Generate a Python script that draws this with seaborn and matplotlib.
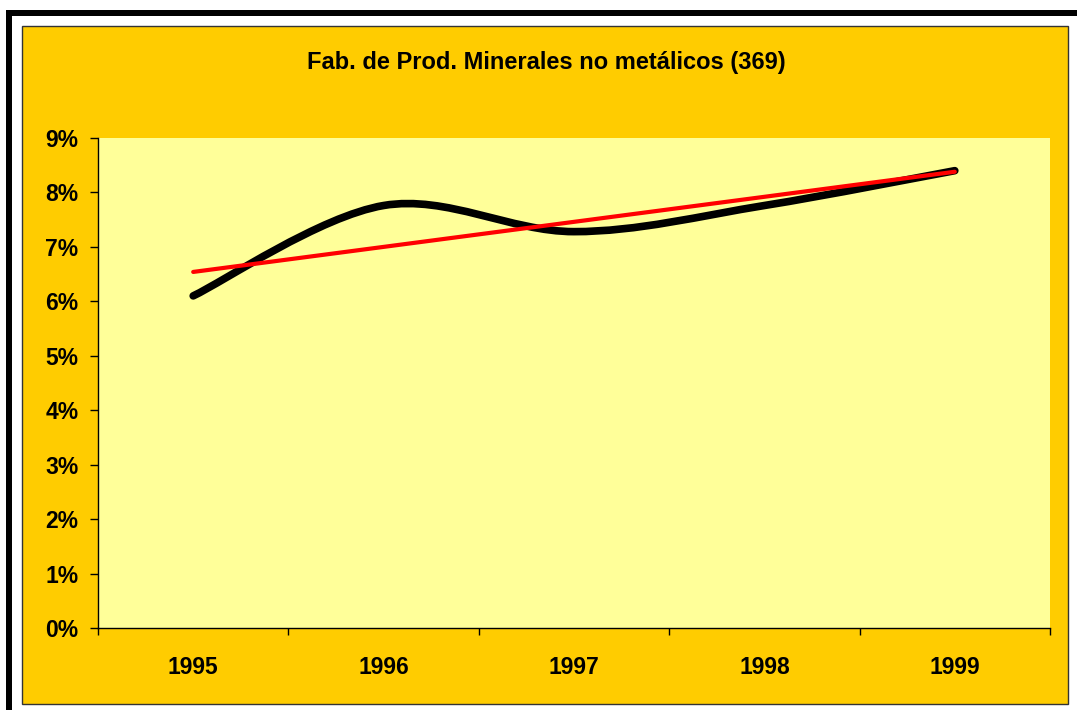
import numpy as np
import matplotlib
matplotlib.use("Agg")
import matplotlib.pyplot as plt
from matplotlib.path import Path
from matplotlib.patches import PathPatch, Rectangle
from matplotlib.ticker import FixedLocator, FuncFormatter
import seaborn as sns

# datos
years = ["1995", "1996", "1997", "1998", "1999"]
valores = [6.10, 7.76, 7.28, 7.76, 8.40]   # %
y_ticks = list(range(0, 10))

sns.set_style("white")
plt.rcParams['font.family'] = ['Liberation Sans', 'DejaVu Sans']
plt.rcParams['font.weight'] = 'bold'
plt.rcParams['text.color'] = 'black'
plt.rcParams['xtick.color'] = 'black'
plt.rcParams['ytick.color'] = 'black'

W, H = 1077, 710
fig = plt.figure(figsize=(W / 100, H / 100), dpi=100)
fig.patch.set_facecolor("white")

# marco exterior negro (izquierda y arriba)
fig.add_artist(Rectangle((6 / W, 0), 6 / W, 700 / H, transform=fig.transFigure,
                         facecolor="black", edgecolor="none", zorder=-2))
fig.add_artist(Rectangle((6 / W, 694 / H), (W - 6) / W, 6 / H, transform=fig.transFigure,
                         facecolor="black", edgecolor="none", zorder=-2))
# area del grafico
fig.add_artist(Rectangle((22 / W, 6 / H), 1046 / W, 678 / H, transform=fig.transFigure,
                         facecolor="#FFCC00", edgecolor="#333333", lw=1, zorder=-1))

ax = fig.add_axes([98 / W, 82 / H, 952 / W, 490 / H])
ax.set_facecolor("#FFFF99")

x = np.arange(len(years))
y = np.array(valores)

# linea de tendencia (regresion lineal)
sns.regplot(x=x, y=y, ax=ax, scatter=False, ci=None, truncate=True,
            line_kws=dict(color="#FF0000", lw=3, solid_capstyle="round", zorder=3))

# linea suavizada tipo Excel (Bezier)
pts = np.column_stack([x, y]).astype(float)
ext = np.vstack([pts[0], pts, pts[-1]])
verts = [tuple(pts[0])]
codes = [Path.MOVETO]
for i in range(len(pts) - 1):
    p0, p1, p2, p3 = ext[i], ext[i + 1], ext[i + 2], ext[i + 3]
    c1 = p1 + (p2 - p0) / 6
    c2 = p2 - (p3 - p1) / 6
    verts += [tuple(c1), tuple(c2), tuple(p2)]
    codes += [Path.CURVE4] * 3
ax.add_patch(PathPatch(Path(verts, codes), facecolor="none", edgecolor="black",
                       lw=5.5, capstyle="round", joinstyle="round", zorder=2))

ax.set_xlim(-0.5, len(years) - 0.5)
ax.set_ylim(0, 9)
ax.yaxis.set_major_locator(FixedLocator(y_ticks))
ax.yaxis.set_major_formatter(FuncFormatter(lambda v, p: f"{v:.0f}%"))
ax.xaxis.set_major_locator(FixedLocator(np.arange(-0.5, len(years), 1.0)))
ax.xaxis.set_major_formatter(FuncFormatter(lambda v, p: ""))
ax.xaxis.set_minor_locator(FixedLocator(x))
ax.set_xticklabels(years, minor=True)

for s in ["top", "right"]:
    ax.spines[s].set_visible(False)
for s in ["left", "bottom"]:
    ax.spines[s].set_color("black")
    ax.spines[s].set_linewidth(1)

ax.tick_params(axis="y", which="major", direction="out", length=6, width=1,
               color="black", pad=8, labelsize=16.5, left=True, labelcolor="black")
ax.tick_params(axis="x", which="major", direction="out", length=5, width=1,
               color="black", bottom=True)
ax.tick_params(axis="x", which="minor", length=0, pad=20, labelsize=16.5, bottom=True,
               labelcolor="black")
for lab in ax.get_yticklabels() + ax.get_xticklabels(minor=True):
    lab.set_fontweight("bold")
ax.set_xlabel("")
ax.set_ylabel("")

fig.text(546 / W, (H - 62) / H, "Fab. de Prod. Minerales no metálicos (369)",
         ha="center", va="center", fontsize=17, fontweight="bold", color="black")

fig.savefig("out.png", dpi=100)
